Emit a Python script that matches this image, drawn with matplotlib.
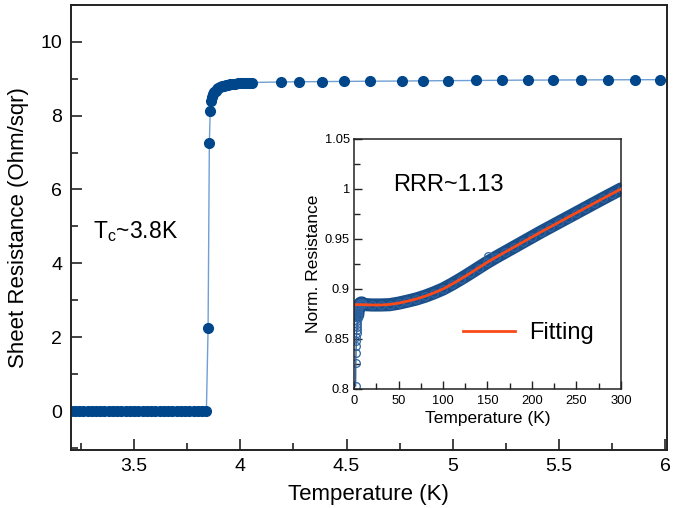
import matplotlib
matplotlib.use('Agg')
import matplotlib.pyplot as plt
from matplotlib.ticker import MultipleLocator, FuncFormatter

plt.rcParams['font.family'] = ['Liberation Sans', 'DejaVu Sans']
plt.rcParams['mathtext.fontset'] = 'custom'
plt.rcParams['mathtext.rm'] = 'Liberation Sans'
plt.rcParams['mathtext.it'] = 'Liberation Sans'

# main panel: sheet resistance vs temperature
main_T = [3.20, 3.22, 3.24, 3.26, 3.28, 3.30, 3.32, 3.34, 3.36, 3.38, 3.40,
          3.42, 3.44, 3.46, 3.48, 3.50, 3.52, 3.54, 3.56, 3.58, 3.60, 3.62,
          3.64, 3.66, 3.68, 3.70, 3.72, 3.74, 3.76, 3.78, 3.80, 3.82, 3.84,
          3.848, 3.854, 3.858, 3.864, 3.868, 3.873, 3.878, 3.884, 3.890,
          3.897, 3.905, 3.913, 3.922, 3.932, 3.942, 3.953, 3.964, 3.976,
          3.988, 4.000, 4.012, 4.025, 4.040, 4.054,
          4.190, 4.275, 4.383, 4.490, 4.611, 4.761, 4.861, 4.977, 5.108,
          5.232, 5.353, 5.472, 5.604, 5.734, 5.857, 5.976]
main_R = [0, 0, 0, 0, 0, 0, 0, 0, 0, 0, 0,
          0, 0, 0, 0, 0, 0, 0, 0, 0, 0, 0,
          0, 0, 0, 0, 0, 0, 0, 0, 0, 0, 0,
          2.25, 7.27, 8.13, 8.40, 8.50, 8.58, 8.63, 8.67, 8.71,
          8.74, 8.77, 8.79, 8.81, 8.825, 8.84, 8.85, 8.86, 8.865,
          8.87, 8.875, 8.88, 8.885, 8.89, 8.895,
          8.91, 8.915, 8.92, 8.925, 8.93, 8.935, 8.94, 8.945, 8.95,
          8.955, 8.96, 8.962, 8.965, 8.968, 8.97, 8.972]

# inset: normalized resistance up to 300 K
inset_T = [1.8, 2.0, 2.2, 2.4, 2.6, 2.8, 3.0, 3.2, 3.4, 3.6, 3.8, 4.0,
           4.2, 4.5, 5.0, 5.5, 6.0, 7.0, 8.0, 9.0,
           10, 20, 30, 40, 50, 60, 70, 80, 90, 100, 110, 120, 130, 140,
           150, 160, 170, 180, 190, 200, 210, 220, 230, 240, 250, 260,
           270, 280, 290, 300]
inset_R = [0.803, 0.826, 0.836, 0.843, 0.848, 0.852, 0.856, 0.859, 0.862,
           0.865, 0.868, 0.871, 0.874, 0.877, 0.880, 0.882, 0.884, 0.8855,
           0.886, 0.886,
           0.8845, 0.8840, 0.8840, 0.8843, 0.8858, 0.8878, 0.8900, 0.8928,
           0.8962, 0.9000, 0.9048, 0.9100, 0.9155, 0.9212, 0.9268, 0.9320,
           0.9370, 0.9420, 0.9470, 0.9520, 0.9570, 0.9618, 0.9666, 0.9714,
           0.9762, 0.9810, 0.9858, 0.9906, 0.9953, 1.0000]
outlier_T = [151]
outlier_R = [0.9327]

fit_T = [2.6, 10, 20, 30, 40, 50, 60, 70, 80, 90, 100, 110, 120, 130,
         140, 150, 160, 170, 180, 190, 200, 210, 220, 230, 240, 250, 260,
         270, 280, 290, 300]
fit_R = [0.8843, 0.8843, 0.8840, 0.8840, 0.8845, 0.8858, 0.8878, 0.8900,
         0.8928, 0.8962, 0.9000, 0.9048, 0.9100, 0.9155, 0.9212, 0.9268,
         0.9320, 0.9370, 0.9420, 0.9470, 0.9520, 0.9570, 0.9618, 0.9666,
         0.9714, 0.9762, 0.9810, 0.9858, 0.9906, 0.9953, 1.0000]

fmt = FuncFormatter(lambda v, p: '%g' % round(v, 3))

fig = plt.figure(figsize=(6.8, 5.08), dpi=100)
ax = fig.add_axes([0.1037, 0.1142, 0.8773, 0.8765])

ax.plot(main_T, main_R, '-o', color='#6f9fd4', lw=1.0,
        mfc='#00468b', mec='#00468b', ms=7)

ax.set_xlim(3.20, 6.01)
ax.set_ylim(-1.05, 11.0)
ax.xaxis.set_major_locator(MultipleLocator(0.5))
ax.xaxis.set_minor_locator(MultipleLocator(0.25))
ax.yaxis.set_major_locator(MultipleLocator(2))
ax.yaxis.set_minor_locator(MultipleLocator(1))
ax.xaxis.set_major_formatter(fmt)
ax.tick_params(which='both', direction='in', color='#222222', width=1.2)
ax.tick_params(which='major', length=8, labelsize=14)
ax.tick_params(which='minor', length=5)
ax.tick_params(axis='x', pad=6)
ax.tick_params(axis='y', pad=6)
for s in ax.spines.values():
    s.set_linewidth(1.4)
    s.set_color('#222222')
ax.set_xlabel('Temperature (K)', fontsize=16, labelpad=6)
ax.set_ylabel('Sheet Resistance (Ohm/sqr)', fontsize=16, labelpad=8)
ax.text(3.307, 4.86, r'T$_{\mathrm{c}}$~3.8K', fontsize=16.5, va='center', ha='left')

# inset
ins = fig.add_axes([0.5206, 0.2343, 0.3926, 0.4921])
ins.plot(inset_T[12:], inset_R[12:], '-', color='#1b4f8a', lw=9.5,
         solid_capstyle='round', zorder=2)
ins.plot(inset_T, inset_R, 'o', mfc='none', mec='#2f63a3', ms=5.5, mew=0.9,
         zorder=2)
ins.plot(outlier_T, outlier_R, 'o', mfc='none', mec='#2f63a3', ms=5.5,
         mew=0.9, zorder=2)
ins.plot(inset_T[:12], inset_R[:12], '-', color='#2f63a3', lw=1.0, zorder=2)
ins.plot(fit_T, fit_R, '-', color='#fa4a1a', lw=2.0, zorder=3,
         label='Fitting')

ins.set_xlim(0, 300)
ins.set_ylim(0.8, 1.05)
ins.xaxis.set_major_locator(MultipleLocator(50))
ins.xaxis.set_minor_locator(MultipleLocator(25))
ins.yaxis.set_major_locator(MultipleLocator(0.05))
ins.yaxis.set_minor_locator(MultipleLocator(0.025))
ins.xaxis.set_major_formatter(fmt)
ins.yaxis.set_major_formatter(fmt)
ins.tick_params(which='both', direction='in', color='#222222', width=1.0)
ins.tick_params(which='major', length=6, labelsize=9.3)
ins.tick_params(which='minor', length=4)
ins.tick_params(axis='x', pad=4)
ins.tick_params(axis='y', pad=3)
for s in ins.spines.values():
    s.set_linewidth(1.1)
    s.set_color('#222222')
ins.set_xlabel('Temperature (K)', fontsize=12.5, labelpad=3)
ins.set_ylabel('Norm. Resistance', fontsize=12.5, labelpad=3)
ins.text(0.146, 0.816, 'RRR~1.13', transform=ins.transAxes, fontsize=17,
         va='center', ha='left')
ins.legend(loc='center left', bbox_to_anchor=(0.408, 0.224), frameon=False,
           fontsize=17, handlelength=2.2, handletextpad=0.6,
           borderaxespad=0, borderpad=0)

fig.savefig('out.png', dpi=100)
